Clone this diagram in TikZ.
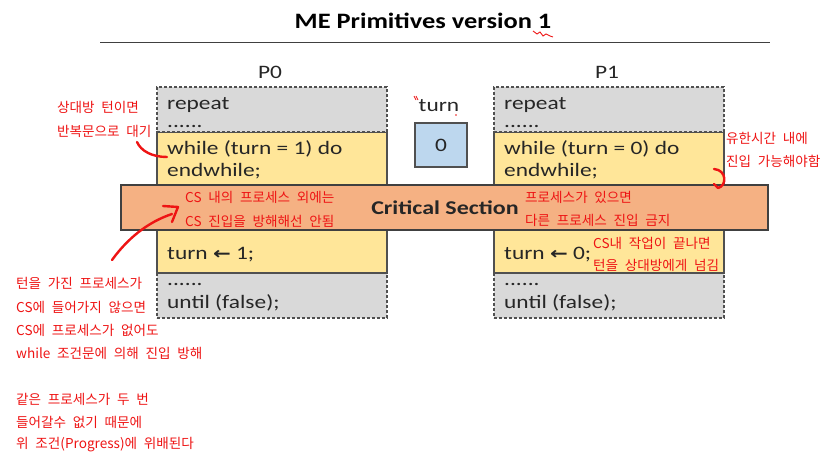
\documentclass[tikz,border=0pt]{standalone}
\usepackage{fontspec}
\setmainfont{Carlito}
\newfontfamily\calfont[FakeStretch=1.23]{Carlito}
\newfontfamily\titlefont[FakeStretch=1.2]{Carlito}
\newfontfamily\krfont[WordSpace=2.2]{Noto Sans CJK KR}
\newfontfamily\arrfont[FakeStretch=1.25]{DejaVu Sans}
\usetikzlibrary{arrows.meta}
\definecolor{gfill}{HTML}{D9D9D9}
\definecolor{yfill}{HTML}{FFE699}
\definecolor{ofill}{HTML}{F5B183}
\definecolor{bfill}{HTML}{BDD7EE}
\definecolor{edge}{HTML}{505050}
\definecolor{ink}{HTML}{262626}
\definecolor{annot}{HTML}{EE1414}
\tikzset{
  graybox/.style={fill=gfill, draw=edge, dashed, dash pattern=on 3pt off 2pt, line width=1.3pt, inner sep=0pt, minimum width=230pt},
  yellowbox/.style={fill=yfill, draw=edge, line width=1.3pt, inner sep=0pt, minimum width=230pt},
  csbox/.style={fill=ofill, draw=edge!80!black, line width=1.5pt, inner sep=0pt},
  code/.style={anchor=base west, inner sep=0pt, text=ink, font=\calfont\fontsize{19}{22}\selectfont},
  label/.style={inner sep=0pt, text=ink, font=\calfont\fontsize{19}{22}\selectfont},
  note/.style={anchor=west, inner sep=0pt, text=annot, font=\krfont\fontsize{13.6}{15}\selectfont},
  stroke/.style={draw=annot, line width=2.4pt, line cap=round, line join=round}
}
\begin{document}
\begin{tikzpicture}[x=1pt,y=-1pt]
\useasboundingbox (0,0) rectangle (824,470);
% title
\node[inner sep=0pt, text=black, font=\titlefont\bfseries\fontsize{22}{26}\selectfont] (title) at (423,21) {ME Primitives version 1};
\coordinate (ruleL) at (100,42.5);
\coordinate (ruleR) at (770,42.5);
\draw[line width=1.6pt, draw=black!75] (ruleL) -- (ruleR);
\coordinate (sq1) at (533,31);
\coordinate (sq2) at (553,37);
\draw[annot, line width=0.9pt] (sq1) -- ++(4,3) -- ++(3,-2) -- ++(3,4) -- ++(3,-2) -- ++(4,2) -- (sq2);

% process labels
\node[label] (P0) at (270,72) {P0};
\node[label] (P1) at (607,72) {P1};

% P0 blocks
\node[graybox, minimum height=45pt] (p0bot) at (272,295.5) {};
\node[yellowbox, minimum height=43pt] (p0turn) at (272,251.5) {};
\node[yellowbox, minimum height=53pt] (p0while) at (272,158.5) {};
\node[graybox, minimum height=45pt] (p0top) at (272,109.5) {};
% P1 blocks
\node[graybox, minimum height=45pt] (p1bot) at (609,295.5) {};
\node[yellowbox, minimum height=43pt] (p1turn) at (609,251.5) {};
\node[yellowbox, minimum height=53pt] (p1while) at (609,158.5) {};
\node[graybox, minimum height=45pt] (p1top) at (609,109.5) {};

% critical section bar
\node[csbox, minimum width=647pt, minimum height=45pt] (cs) at (444.5,207.5) {};
\node[inner sep=0pt, text=ink, font=\calfont\bfseries\fontsize{19.5}{22}\selectfont] (cstext) at (445,208) {Critical Section};

% turn variable
\node[label] (turnlbl) at (439,106) {turn};
\node[fill=bfill, draw=edge, line width=1.3pt, minimum width=52pt, minimum height=44pt, inner sep=0pt, text=ink, font=\calfont\fontsize{19}{22}\selectfont] (turnval) at (441,145) {0};
\coordinate (tm1) at (414,96);
\coordinate (tm2) at (416,100);
\draw[annot, line width=0.8pt] (tm1) -- (tm2);
\draw[annot, line width=0.8pt] ([xshift=2pt]tm1) -- ([xshift=2pt]tm2);
\fill[annot] (456,115) circle (0.9pt);

% P0 code
\node[code] (p0repeat) at (167,110) {repeat};
\node[code] (p0dots1) at (167,128) {......};
\node[code] (p0while1) at (167,155) {while (turn = 1) do};
\node[code] (p0while2) at (167,177) {endwhile;};
\node[code] (p0assign) at (167,259) {turn {\arrfont\bfseries\fontsize{17}{20}\selectfont ←} 1;};
\node[code] (p0dots2) at (167,285) {......};
\node[code] (p0until) at (167,308) {until (false);};
% P1 code
\node[code] (p1repeat) at (504,110) {repeat};
\node[code] (p1dots1) at (504,128) {......};
\node[code] (p1while1) at (504,155) {while (turn = 0) do};
\node[code] (p1while2) at (504,177) {endwhile;};
\node[code] (p1assign) at (504,259) {turn {\arrfont\bfseries\fontsize{17}{20}\selectfont ←} 0;};
\node[code] (p1dots2) at (504,285) {......};
\node[code] (p1until) at (504,308) {until (false);};

% annotations
\node[note] (n1a) at (57,107) {상대방 턴이면};
\node[note] (n1b) at (57,131) {반복문으로 대기};
\node[note] (n2a) at (185,197) {CS 내의 프로세스 외에는};
\node[note] (n2b) at (185,221) {CS 진입을 방해해선 안됨};
\node[note] (n3a) at (525,197) {프로세스가 있으면};
\node[note] (n3b) at (525,220) {다른 프로세스 진입 금지};
\node[note] (n4a) at (726,138) {유한시간 내에};
\node[note] (n4b) at (726,161) {진입 가능해야함};
\node[note] (n5a) at (593,243) {CS내 작업이 끝나면};
\node[note] (n5b) at (593,265) {턴을 상대방에게 넘김};
\node[note] (n6a) at (16,283) {턴을 가진 프로세스가};
\node[note] (n6b) at (16,307) {CS에 들어가지 않으면};
\node[note] (n6c) at (16,330) {CS에 프로세스가 없어도};
\node[note] (n6d) at (16,353) {while 조건문에 의해 진입 방해};
\node[note] (n7a) at (16,399) {같은 프로세스가 두 번};
\node[note] (n7b) at (16,422) {들어갈수 없기 때문에};
\node[note] (n7c) at (16,445) {위 조건(Progress)에 위배된다};

% hand-drawn strokes
\coordinate (s1a) at (137,142);
\draw[stroke] (s1a) .. controls (141,151) and (152,157) .. (p0while1.base west |- 0,157);
\coordinate (s2a) at (112,260);
\coordinate (s2b) at (172,214);
\coordinate (s2h1) at (163,206);
\coordinate (s2h2) at (178,207);
\coordinate (s2h3) at (172,222);
\draw[stroke] (s2a) .. controls (128,238) and (148,222) .. (s2b);
\draw[stroke] (s2h1) -- (s2h2) -- (s2h3);
\coordinate (s3a) at (714,169);
\coordinate (s3b) at (718,188);
\draw[stroke] (s3a) .. controls (727,170) and (727,186) .. (s3b);
\draw[stroke] (s3b) -- (714,184);
\end{tikzpicture}
\end{document}
